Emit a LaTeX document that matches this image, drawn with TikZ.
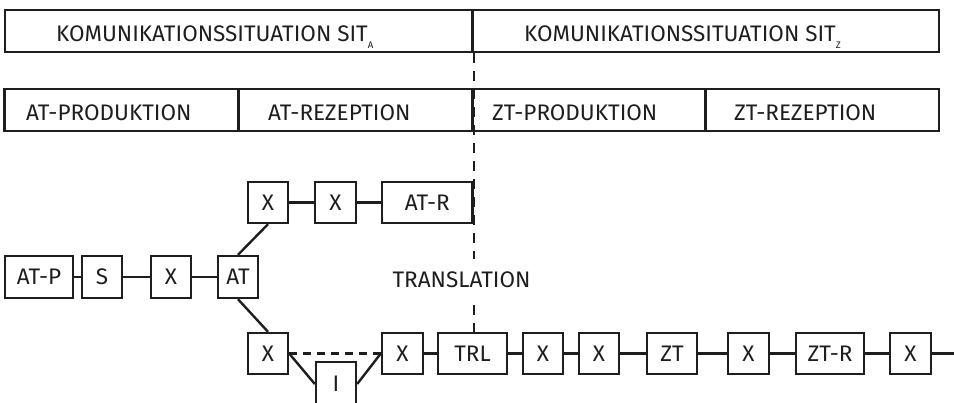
\documentclass[tikz,border=0pt]{standalone}
\usepackage{fontspec}
\setmainfont{Fira Sans}
\definecolor{ink}{HTML}{1E1E1E}
\tikzset{
  bx/.style={draw=ink, line width=2.4pt, inner sep=0pt, minimum height=41pt, text=ink, font=\fontsize{22.5}{24}\selectfont},
  cell/.style={draw=ink, line width=2.4pt, inner sep=0pt, minimum height=42pt},
  lbl/.style={text=ink, inner sep=0pt, font=\fontsize{22.5}{24}\selectfont},
  ln/.style={draw=ink, line width=2.4pt},
  dsh/.style={draw=ink, line width=2.4pt, dash pattern=on 10pt off 8pt},
  dshb/.style={draw=ink, line width=2.4pt, dash pattern=on 8pt off 6pt}
}
\newcommand{\sbx}[1]{\raisebox{-7pt}{\fontsize{9.5}{10}\selectfont #1}}
\begin{document}
\begin{tikzpicture}[x=1pt,y=-1pt]
\useasboundingbox (0,0) rectangle (954,402);
% header rows
\node[cell, minimum width=467.5pt] (sa) at (238.75,31) {};
\node[cell, minimum width=466.5pt] (sz) at (705.75,31) {};
\node[cell, minimum width=233.5pt, minimum height=42pt] (pa) at (121.25,110) {};
\node[cell, minimum width=234pt, minimum height=42pt] (ra) at (355.5,110) {};
\node[cell, minimum width=233pt, minimum height=42pt] (pz) at (589,110) {};
\node[cell, minimum width=233.5pt, minimum height=42pt] (rz) at (822.25,110) {};
\node[lbl, anchor=base west] (tsa) at (56,41) {KOMUNIKATIONSSITUATION SIT\sbx{A}};
\node[lbl, anchor=base west] (tsz) at (524,41) {KOMUNIKATIONSSITUATION SIT\sbx{Z}};
\node[lbl, anchor=base west] (tpa) at (26,120) {AT-PRODUKTION};
\node[lbl, anchor=base west] (tra) at (268,120) {AT-REZEPTION};
\node[lbl, anchor=base west] (tpz) at (492,120) {ZT-PRODUKTION};
\node[lbl, anchor=base west] (trz) at (734,120) {ZT-REZEPTION};
% top branch
\node[bx, minimum width=40pt] (xa) at (268,202.5) {X};
\node[bx, minimum width=41pt] (xb) at (335.5,202.5) {X};
\node[bx, minimum width=90.5pt] (atr) at (427.25,202.5) {AT-R};
% middle row
\node[bx, minimum width=68pt, minimum height=42pt] (atp) at (39,277) {AT-P};
\node[bx, minimum width=40pt, minimum height=42pt] (s) at (102,277) {S};
\node[bx, minimum width=40pt, minimum height=42pt] (xc) at (171,277) {X};
\node[bx, minimum width=40pt, minimum height=42pt] (at) at (238,277) {AT};
% bottom row
\node[bx, minimum width=40pt] (xd) at (268,353.5) {X};
\node[bx, minimum width=40pt, minimum height=44pt] (i) at (336,384) {I};
\node[bx, minimum width=41pt] (xe) at (402.5,353.5) {X};
\node[bx, minimum width=69pt] (trl) at (472.5,353.5) {TRL};
\node[bx, minimum width=40pt] (xf) at (543,353.5) {X};
\node[bx, minimum width=40pt] (xg) at (599,353.5) {X};
\node[bx, minimum width=50pt] (zt) at (672,353.5) {ZT};
\node[bx, minimum width=41pt] (xh) at (748.5,353.5) {X};
\node[bx, minimum width=68pt] (ztr) at (830,353.5) {ZT-R};
\node[bx, minimum width=41pt] (xi) at (910.5,353.5) {X};
\coordinate (endr) at (955,353.5);
% vertical dashed divider
\path[dsh] (sa.south east) -- (sa.south east |- trl.north);
\node[lbl, anchor=base, fill=white, inner xsep=2pt, inner ysep=12pt] (trans) at (461.5,287) {TRANSLATION};
% connectors
\draw[ln] (xa) -- (xb);
\draw[ln] (xb) -- (atr);
\draw[ln] (atp) -- (s);
\draw[ln] (s) -- (xc);
\draw[ln] (xc) -- (at);
\draw[ln] (at.north) -- (xa.south);
\draw[ln] (at.south) -- (xd.north);
\draw[ln] (xd.east) -- (i.west);
\draw[ln] (i.east) -- (xe.west);
\path[dshb] (xd.east) -- (xe.west);
\draw[ln] (xe) -- (trl);
\draw[ln] (trl) -- (xf);
\draw[ln] (xf) -- (xg);
\draw[ln] (xg) -- (zt);
\draw[ln] (zt) -- (xh);
\draw[ln] (xh) -- (ztr);
\draw[ln] (ztr) -- (xi);
\draw[ln] (xi) -- (endr);
\end{tikzpicture}
\end{document}
